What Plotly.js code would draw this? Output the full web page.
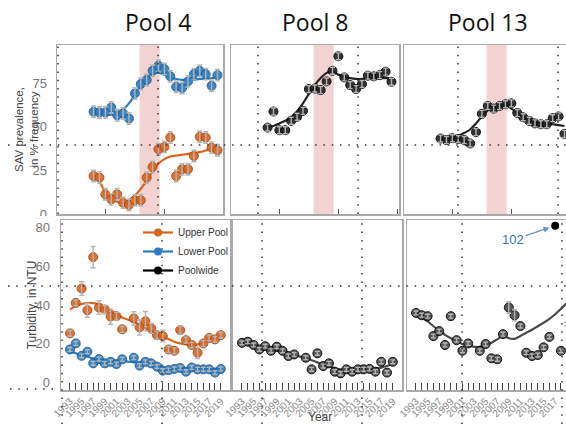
<!DOCTYPE html>
<html>
<head>
<meta charset="utf-8">
<script src="https://cdn.plot.ly/plotly-3.0.1.min.js"></script>
<style>html,body{margin:0;padding:0;background:#fff;}#chart{width:566px;height:424px;}</style>
</head>
<body>
<div id="chart"></div>
<script>
// ---------------- DATA ----------------
const poolTitles = ['Pool 4', 'Pool 8', 'Pool 13'];
const seriesNames = ['Upper Pool', 'Lower Pool', 'Poolwide'];
const savTitle = 'SAV prevalence,<br>in % frequency';
const turbTitle = 'Turbidity, in NTU';
const xTitle = 'Year';

// SAV prevalence (top row), years 1998-2019
const savYears = [1998,1999,2000,2001,2002,2003,2004,2005,2006,2007,2008,2009,2010,2011,2012,2013,2014,2015,2016,2017,2018,2019];
const sav4Lower = [58.7,58.3,58.3,61.1,56.7,57.7,54.8,69.2,74.6,76.9,82.2,85.1,83.2,79.0,73.0,72.3,76.1,80.3,82.2,80.3,73.6,79.7];
const sav4LowerFit = [58,57.5,57,57,58,60,63.5,68.5,73.5,77.5,80.5,81,80,78.5,77.5,77,77,77,77.5,77.5,78,78.5];
const sav4Upper = [21.8,20.9,11.3,8.4,11.3,6.5,5.2,7.9,7.9,20.9,27.0,37.2,38.5,43.9,21.8,25.7,25.7,33.3,44.3,43.9,38.1,36.6];
const sav4UpperFit = [23,19,12,9,7,6.5,8,10.5,14.5,19,24.5,29,31.5,33,33.5,34,34.5,35,35.5,36.5,38,40];
const sav8 = [49.6,58.8,48.1,48.1,53.5,55.8,59.2,71.7,72.0,71.1,76.1,82.2,90.5,78.4,74.0,71.7,74.6,79.4,79.0,79.7,81.7,75.9];
const sav8Fit = [50,50.5,52,53.5,55.5,59,63.5,69,74,78,81,82,80,79,78,77.5,77.5,77.5,77.5,78,78,78];
const sav13 = [43.3,42.4,43.5,43.0,42.5,40.5,47.0,57.5,62.0,60.5,62.0,63.0,63.5,58.0,55.5,53.5,52.0,51.5,51.5,55.0,56.0,46.0];
const sav13Fit = [43,43.5,44,45,46.5,48.5,52,56,59.5,62,63,62.5,60.5,58,56,54.5,53.5,52.5,52,51.5,51,50.5];
const savErr4 = [3.3,3.3,3.3,3.3,3.3,3.3,3.3,3.3,3.3,3.3,3.3,3.3,3.3,3.3,3.3,3.3,3.3,3.3,3.3,3.3,3.3,3.3];
const savErrPoolwide = [2,2,2,2,2,2,2,2,2,2,2,2,2,2,2,2,2,2,2,2,2,2];
const clearWaterPeriod = [2005.8, 2009.2];

// Turbidity (bottom row), years 1993-2019 (no 2003)
const turbYears = [1993,1994,1995,1996,1997,1998,1999,2000,2001,2002,2004,2005,2006,2007,2008,2009,2010,2011,2012,2013,2014,2015,2016,2017,2018,2019];
const turb4Upper = [25.3,41.1,48.5,37.3,64.8,38.7,37.7,34.0,34.2,27.4,33.0,28.4,31.6,27.9,24.4,23.9,17.0,16.3,27.0,21.8,19.3,15.3,20.1,23.0,22.2,24.4];
const turb4UpperErr = [1.5,1.5,3.5,3.5,5.5,3.5,2,4,2,1.5,3.5,4,5,2.5,2,3,1.5,1.5,2,1.5,1.5,3,1.5,1.5,1.5,1.5];
const turb4UpperFit = [37.6,39.5,40.5,41,41,40.3,39,37.3,35.5,33.5,31.3,29.5,28,26.8,25,23.6,22.3,21,20.1,19.6,19.3,19.6,20.6,21.8,23,24.4];
const turb4Lower = [17.0,20.1,13.7,15.8,9.8,12.0,9.8,10.6,9.4,11.9,12.7,8.6,10.6,9.8,8.1,6.0,6.3,6.9,7.4,5.5,7.7,6.7,6.7,6.7,5.0,6.9];
const turb4LowerFit = [16,15,14,13.2,12.4,11.8,11.4,11.2,11,10.9,10.3,10,9.7,9.2,8.5,7.7,7.3,7.1,7,6.9,6.8,6.7,6.7,6.8,6.9,7];
const turb8 = [20.4,21.0,19.3,17.0,18.7,16.3,18.4,16.3,13.6,14.4,12.7,6.7,15.0,8.4,9.8,5.5,4.6,6.7,5.5,6.7,6.7,6.9,5.5,10.6,5.0,10.6];
const turb8Fit = [20.5,20,19.2,18.3,17.6,17,16.4,15.8,15,14.2,12.5,11.4,10.3,9.2,8.2,7.2,6.5,6.1,6,6,6.1,6.4,6.9,7.6,8.4,9.3];
const turb13 = [35.9,34.7,34.2,23.9,26.5,19.3,34.2,21.8,16.3,20.1,16.3,19.8,12.4,11.9,24.9,38.7,34.7,29.1,15.3,13.6,14.1,18.1,23.5,102,16.3,30.1];
const turb13Fit = [35.5,33.5,31.5,29,26.8,24.5,22.8,21.3,19.8,18.8,18.3,19.2,20.5,22.2,24.2,22.8,22.5,24,25.6,27.2,29,30.8,32.8,35.2,38,41];
const turbErrSmall = [1,1,1,1,1,1,1,1,1,1,1,1,1,1,1,1,1,1,1,1,1,1,1,1,1,1];
const turb13Err = [1,1,1,1,1,1,1,1,1,1,1,1,1,1,1,3,3,1,1,1,1,1,1,0,1,1];
const turbAxisCap = 81;   // off-scale values are drawn at the top of the axis and labelled
const turbTickVals = [0,20,40,60,80];
const savTickVals = [0,25,50,75];

// ---------------- STYLE / LAYOUT HELPERS ----------------
const W = 566, H = 424;
const px = v => v / W;
const py = v => 1 - v / H;
const ORANGE = '#DA651F', BLUE = '#2B7CC2', BLACK = '#222';
const FONT = 'Liberation Sans, Arial, sans-serif';

const traces = [];
function addSeries(xa, ya, x, y, err, fit, color, edge) {
  traces.push({type:'scatter', mode:'lines', x:x, y:fit, xaxis:xa, yaxis:ya, showlegend:false, hoverinfo:'skip',
    line:{color:color, width:2.2, shape:'spline', smoothing:1}});
  traces.push({type:'scatter', mode:'markers', x:x, y:y, xaxis:xa, yaxis:ya, showlegend:false,
    marker:{size:9, color:color, opacity:0.92, line:{color:edge, width:1}}});
  traces.push({type:'scatter', mode:'markers', x:x, y:y, xaxis:xa, yaxis:ya, showlegend:false, hoverinfo:'skip',
    marker:{size:9, opacity:0}, error_y:{type:'data', array:err, color:'#b4b4b4', thickness:1.4, width:2.5}});
}

// Top row
addSeries('x','y', savYears, sav4Lower, savErr4, sav4LowerFit, BLUE, '#1d5d94');
addSeries('x','y', savYears, sav4Upper, savErr4, sav4UpperFit, ORANGE, '#a84a12');
addSeries('x2','y2', savYears, sav8, savErrPoolwide, sav8Fit, BLACK, '#000');
addSeries('x3','y3', savYears, sav13, savErrPoolwide, sav13Fit, BLACK, '#000');
// Bottom row
addSeries('x4','y4', turbYears, turb4Lower, turbErrSmall, turb4LowerFit, BLUE, '#1d5d94');
addSeries('x4','y4', turbYears, turb4Upper, turb4UpperErr, turb4UpperFit, ORANGE, '#a84a12');
addSeries('x5','y5', turbYears, turb8, turbErrSmall, turb8Fit, '#4a4a4a', '#000');
const turb13Shown = turb13.map(v => v > turbAxisCap ? null : v);
addSeries('x6','y6', turbYears, turb13Shown, turb13Err, turb13Fit, '#4a4a4a', '#000');
// off-scale point
const offIdx = turb13.findIndex(v => v > turbAxisCap);
traces.push({type:'scatter', mode:'markers', x:[turbYears[offIdx]], y:[turbAxisCap], xaxis:'x6', yaxis:'y6',
  showlegend:false, cliponaxis:false, marker:{size:8, color:'#000'}});

// legend entries
const legendColors = [ORANGE, BLUE, '#000'];
seriesNames.forEach((n, i) => traces.push({type:'scatter', mode:'lines+markers', name:n, x:[null], y:[null],
  xaxis:'x4', yaxis:'y4', showlegend:true, line:{color:legendColors[i], width:2.2}, marker:{size:8, color:legendColors[i]}}));

// axes
const topX0 = 1991.8, topPxPerYear = 5.9;
const botX0 = 1991.45, botPxPerYear = 5.8;
const frame = {showline:true, linecolor:'#a9a9a9', linewidth:1.5, showgrid:false, zeroline:false};
function xTop(l, r, mirror) {
  return Object.assign({}, frame, {domain:[px(l), px(r)], range:[topX0, topX0 + (r - l) / topPxPerYear],
    tickvals:[2000,2010,2020], ticks:'inside', ticklen:5, tickcolor:'#555', showticklabels:false, mirror:mirror});
}
function yTop(anchor, labels, mirror) {
  const ax = Object.assign({}, frame, {domain:[py(214), py(45)], range:[0, 97], anchor:anchor, tickvals:savTickVals,
    showticklabels:labels, ticks:'', mirror:mirror, ticklabelstandoff:6,
    tickfont:{family:FONT, size:13, color:'#777'}});
  if (labels) ax.title = {text:savTitle, standoff:3, font:{family:FONT, size:11.5, color:'#444'}};
  return ax;
}
const botTickVals = turbYears.concat([2003]).sort();
const botTickText = botTickVals.map(y => (y % 2 === 1 ? String(y) : ''));
function xBot(l, r, mirror, anchor) {
  return Object.assign({}, frame, {domain:[px(l), px(r)], range:[botX0, botX0 + (r - l) / botPxPerYear], anchor:anchor,
    tickvals:botTickVals, ticktext:botTickText, ticks:'inside', ticklen:7, tickcolor:'#444', tickangle:-45,
    mirror:mirror, tickfont:{family:FONT, size:10, color:'#8a8a8a'}});
}
function yBot(anchor, labels, mirror) {
  const ax = Object.assign({}, frame, {domain:[py(390), py(220)], range:[-4, 84], anchor:anchor, tickvals:turbTickVals,
    showticklabels:labels, ticks:'', mirror:mirror, ticklabelstandoff:7,
    tickfont:{family:FONT, size:13, color:'#777'}});
  if (labels) ax.title = {text:turbTitle, standoff:3, font:{family:FONT, size:12, color:'#444'}};
  return ax;
}

// dotted guide lines (drawn on the original figure)
const shapes = [];
const dotted = {color:'#333', width:1.5, dash:'1.5px,6.8px'};
[145, 286].forEach(y => shapes.push({type:'line', xref:'paper', yref:'paper', x0:px(8), x1:1, y0:py(y), y1:py(y), line:dotted, layer:'above'}));
shapes.push({type:'line', xref:'paper', yref:'paper', x0:px(10), x1:px(55), y0:py(389), y1:py(389), line:dotted, layer:'above'});
[58,158,258,358,458,558].forEach(x => shapes.push({type:'line', xref:'paper', yref:'paper', x0:px(x), x1:px(x), y0:py(214), y1:py(46), line:dotted, layer:'above'}));
[62,162,262,362,462,562].forEach(x => shapes.push({type:'line', xref:'paper', yref:'paper', x0:px(x), x1:px(x), y0:0, y1:py(221), line:dotted, layer:'above'}));
// clear-water shading on top row
['x','x2','x3'].forEach((xa, i) => shapes.push({type:'rect', xref:xa, yref:(i ? 'y' + (i + 1) : 'y') + ' domain',
  x0:clearWaterPeriod[0], x1:clearWaterPeriod[1], y0:0, y1:1, fillcolor:'#f3d2d2', line:{width:0}, layer:'below'}));
// crop of the top "0" label
shapes.push({type:'rect', xref:'paper', yref:'paper', x0:0, x1:px(56), y0:py(219.5), y1:py(216), fillcolor:'#fff', line:{width:0}, layer:'above'});

const annotations = [];
[[158, 0], [315, 1], [488, 2]].forEach(([x, i]) => annotations.push({xref:'paper', yref:'paper', x:px(x), y:py(22),
  text:poolTitles[i], showarrow:false, xanchor:'center', yanchor:'middle', bgcolor:'rgba(255,255,255,0)',
  font:{family:'Open Sans, Liberation Sans, sans-serif', size:23, color:'#111'}}));
annotations.push({xref:'paper', yref:'paper', x:px(320), y:py(417), text:xTitle, showarrow:false, xanchor:'center', yanchor:'middle',
  bgcolor:'rgba(255,255,255,0)', font:{family:FONT, size:12, color:'#444'}});
annotations.push({xref:'x6', yref:'y6', x:turbYears[offIdx], y:turbAxisCap, text:String(turb13[offIdx]), showarrow:true,
  ax:-42, ay:14, arrowhead:2, arrowsize:1, arrowwidth:1.2, arrowcolor:'#6a8fcf', standoff:6, bgcolor:'rgba(255,255,255,0)',
  font:{family:FONT, size:13, color:'#2E75B6'}});

const layout = {
  width:W, height:H, margin:{l:0, r:0, t:0, b:0}, paper_bgcolor:'#fff', plot_bgcolor:'#fff',
  font:{family:FONT},
  showlegend:true,
  legend:{x:px(138), y:py(218), xanchor:'left', yanchor:'top', bgcolor:'rgba(0,0,0,0)', font:{family:FONT, size:10, color:'#333'}, tracegroupgap:0},
  xaxis:Object.assign(xTop(57, 223, true), {anchor:'y'}),
  yaxis:yTop('x', true, true),
  xaxis2:Object.assign(xTop(231, 399, true), {anchor:'y2'}),
  yaxis2:yTop('x2', false, true),
  xaxis3:Object.assign(xTop(404, 566, true), {anchor:'y3'}),
  yaxis3:yTop('x3', false, false),
  xaxis4:xBot(61, 230, true, 'y4'),
  yaxis4:yBot('x4', true, true),
  xaxis5:xBot(233, 402, true, 'y5'),
  yaxis5:yBot('x5', false, true),
  xaxis6:xBot(407, 566, true, 'y6'),
  yaxis6:yBot('x6', false, false),
  shapes:shapes, annotations:annotations
};

// nudge the y-axis titles closer to their tick labels, as in the original figure
const titleNudge = {'g-ytitle': 12, 'g-y4title': 7};
Plotly.newPlot('chart', traces, layout, {staticPlot:true, displayModeBar:false}).then(gd => {
  Object.keys(titleNudge).forEach(cls => {
    const g = gd.querySelector('.' + cls);
    if (g) g.setAttribute('transform', 'translate(' + titleNudge[cls] + ',0)');
  });
});
</script>
</body>
</html>
